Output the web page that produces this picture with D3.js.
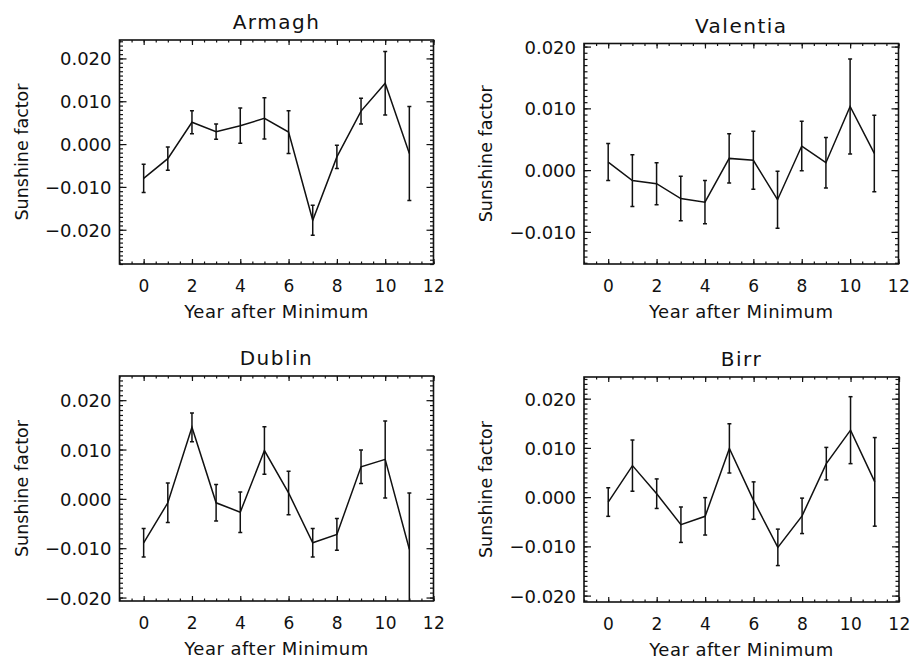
<!DOCTYPE html>
<html>
<head>
<meta charset="utf-8">
<script src="https://cdn.jsdelivr.net/npm/d3@7"></script>
<style>
  body { margin: 0; background: #fff; }
  svg { display: block; }
  text { font-family: "DejaVu Sans", sans-serif; fill: #111; }
</style>
</head>
<body>
<div id="chart"></div>
<script>
// Sunshine factor vs year after solar minimum, four Irish stations
const years = [0, 1, 2, 3, 4, 5, 6, 7, 8, 9, 10, 11];
const xTicks = [0, 2, 4, 6, 8, 10, 12];

const armagh    = [-0.0080, -0.0034, 0.0051, 0.0029, 0.0043, 0.0060, 0.0028, -0.0178, -0.0030, 0.0077, 0.0142, -0.0022];
const armaghErr = [0.0033, 0.0027, 0.0027, 0.0018, 0.0041, 0.0048, 0.0050, 0.0035, 0.0027, 0.0030, 0.0074, 0.0110];

const valentia    = [0.0013, -0.0017, -0.0022, -0.0046, -0.0052, 0.0019, 0.0016, -0.0048, 0.0039, 0.0012, 0.0103, 0.0027];
const valentiaErr = [0.0030, 0.0042, 0.0034, 0.0036, 0.0035, 0.0040, 0.0047, 0.0046, 0.0040, 0.0041, 0.0077, 0.0062];

const dublin    = [-0.0089, -0.0008, 0.0145, -0.0008, -0.0027, 0.0098, 0.0012, -0.0089, -0.0072, 0.0065, 0.0080, -0.0102];
const dublinErr = [0.0029, 0.0040, 0.0029, 0.0037, 0.0041, 0.0048, 0.0044, 0.0029, 0.0032, 0.0034, 0.0078, 0.0114];

const birr    = [-0.0010, 0.0064, 0.0007, -0.0056, -0.0039, 0.0099, -0.0007, -0.0102, -0.0038, 0.0068, 0.0136, 0.0031];
const birrErr = [0.0029, 0.0052, 0.0030, 0.0036, 0.0038, 0.0050, 0.0038, 0.0037, 0.0036, 0.0033, 0.0068, 0.0090];

const W = 912, H = 660;

// panel boxes (pixels) and y ranges
const panels = [
  { name: 'Armagh',   vals: armagh,   errs: armaghErr,   x0: 119.5, x1: 433.5, y0: 40,   y1: 264, yDom: [-0.0280, 0.0243] },
  { name: 'Valentia', vals: valentia, errs: valentiaErr, x0: 584,   x1: 898.5, y0: 43.5, y1: 264, yDom: [-0.0152, 0.0205] },
  { name: 'Dublin',   vals: dublin,   errs: dublinErr,   x0: 119.5, x1: 433.5, y0: 376,  y1: 601, yDom: [-0.0207, 0.0249] },
  { name: 'Birr',     vals: birr,     errs: birrErr,     x0: 584,   x1: 899,   y0: 377,  y1: 602, yDom: [-0.0213, 0.0244] }
];

const svg = d3.select('#chart').append('svg')
  .attr('width', W)
  .attr('height', H);

const fmt = d3.format('.3f');

panels.forEach((p, i) => {
  const x = d3.scaleLinear().domain([-1, 12]).range([p.x0, p.x1]);
  const y = d3.scaleLinear().domain(p.yDom).range([p.y1, p.y0]);
  const inDom = v => v >= p.yDom[0] - 1e-9 && v <= p.yDom[1] + 1e-9;
  const yMajor = [-0.02, -0.01, 0, 0.01, 0.02].filter(inDom);
  const yMinor = d3.range(-30, 26).map(k => k / 1000).filter(inDom);
  const xMinor = d3.range(-2, 25).map(k => k / 2);

  const g = svg.append('g');

  // minor ticks
  g.append('g').attr('transform', `translate(0,${p.y1})`)
    .call(d3.axisBottom(x).tickValues(xMinor).tickSize(-2.5).tickFormat(''));
  g.append('g').attr('transform', `translate(0,${p.y0})`)
    .call(d3.axisTop(x).tickValues(xMinor).tickSize(-2.5).tickFormat(''));
  g.append('g').attr('transform', `translate(${p.x0},0)`)
    .call(d3.axisLeft(y).tickValues(yMinor).tickSize(-3.5).tickFormat(''));
  g.append('g').attr('transform', `translate(${p.x1},0)`)
    .call(d3.axisRight(y).tickValues(yMinor).tickSize(-3.5).tickFormat(''));

  // major ticks + labels
  const xb = g.append('g').attr('transform', `translate(0,${p.y1})`)
    .call(d3.axisBottom(x).tickValues(xTicks).tickSize(-5).tickPadding(28).tickFormat(d3.format('d')));
  g.append('g').attr('transform', `translate(0,${p.y0})`)
    .call(d3.axisTop(x).tickValues(xTicks).tickSize(-5).tickFormat(''));
  const yl = g.append('g').attr('transform', `translate(${p.x0},0)`)
    .call(d3.axisLeft(y).tickValues(yMajor).tickSize(-7).tickPadding(8).tickFormat(fmt));
  g.append('g').attr('transform', `translate(${p.x1},0)`)
    .call(d3.axisRight(y).tickValues(yMajor).tickSize(-7).tickFormat(''));

  g.selectAll('.domain').remove();
  g.selectAll('.tick line').attr('stroke', '#111').attr('stroke-width', 1.2);
  xb.selectAll('text').attr('font-size', 17).attr('fill', '#111').attr('dy', '0').attr('letter-spacing', 0.5);
  yl.selectAll('text').attr('font-size', 18).attr('fill', '#111').attr('dy', '0.36em');

  // frame
  g.append('rect')
    .attr('x', p.x0).attr('y', p.y0)
    .attr('width', p.x1 - p.x0).attr('height', p.y1 - p.y0)
    .attr('fill', 'none').attr('stroke', '#111').attr('stroke-width', 1.6);

  // data
  const clipId = 'clip' + i;
  svg.append('clipPath').attr('id', clipId)
    .append('rect').attr('x', p.x0).attr('y', p.y0)
    .attr('width', p.x1 - p.x0).attr('height', p.y1 - p.y0);
  const d = years.map((yr, k) => ({ yr, v: p.vals[k], e: p.errs[k] }));
  const plot = g.append('g').attr('clip-path', `url(#${clipId})`);

  plot.append('path')
    .datum(d)
    .attr('fill', 'none')
    .attr('stroke', '#111')
    .attr('stroke-width', 1.5)
    .attr('d', d3.line().x(q => x(q.yr)).y(q => y(q.v)));

  const bars = plot.selectAll('g.err').data(d).join('g').attr('class', 'err')
    .attr('stroke', '#111').attr('stroke-width', 1.5);
  bars.append('line')
    .attr('x1', q => x(q.yr)).attr('x2', q => x(q.yr))
    .attr('y1', q => y(q.v - q.e)).attr('y2', q => y(q.v + q.e));
  bars.append('line')
    .attr('x1', q => x(q.yr) - 2).attr('x2', q => x(q.yr) + 2)
    .attr('y1', q => y(q.v + q.e)).attr('y2', q => y(q.v + q.e));
  bars.append('line')
    .attr('x1', q => x(q.yr) - 2).attr('x2', q => x(q.yr) + 2)
    .attr('y1', q => y(q.v - q.e)).attr('y2', q => y(q.v - q.e));

  // titles
  const cx = (p.x0 + p.x1) / 2;
  g.append('text')
    .attr('x', cx).attr('y', p.y0 - 11)
    .attr('text-anchor', 'middle')
    .attr('font-size', 20).attr('letter-spacing', 1.5)
    .text(p.name);
  g.append('text')
    .attr('x', cx).attr('y', p.y1 + 54)
    .attr('text-anchor', 'middle')
    .attr('font-size', 18).attr('letter-spacing', 0.5)
    .text('Year after Minimum');
  g.append('text')
    .attr('transform', `translate(${p.x0 - 92},${(p.y0 + p.y1) / 2}) rotate(-90)`)
    .attr('text-anchor', 'middle')
    .attr('font-size', 17.5)
    .text('Sunshine factor');
});
</script>
</body>
</html>
